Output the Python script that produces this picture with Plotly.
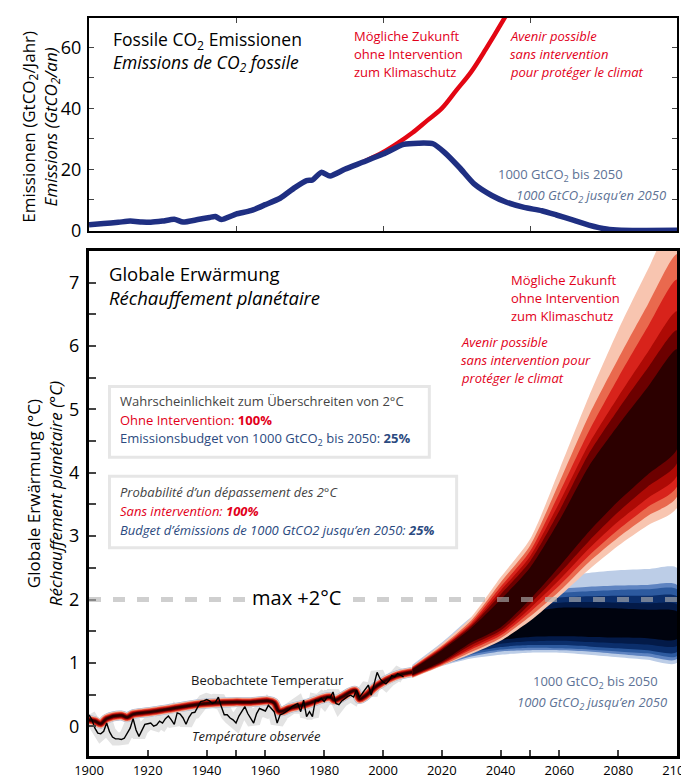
import plotly.graph_objects as go

FONT = "Open Sans"

# ---------------- top panel: fossil CO2 emissions ----------------
em_years = [1900, 1905, 1910, 1914, 1918, 1921, 1925, 1929, 1932, 1937, 1941, 1943, 1945,
            1950, 1955, 1960, 1965, 1970, 1974, 1976, 1979, 1982, 1987, 1993, 2000, 2007,
            2012, 2017, 2021, 2026, 2031, 2037, 2042, 2048, 2054, 2059, 2065, 2070, 2076,
            2081, 2100]
em_budget = [1.8, 2.2, 2.6, 3.0, 2.7, 2.6, 3.0, 3.6, 2.7, 3.5, 4.2, 4.5, 3.5,
             5.3, 6.4, 8.4, 10.5, 14.0, 16.3, 16.5, 19.0, 17.8, 20.0, 22.3, 25.0, 28.2,
             28.6, 28.4, 25.5, 20.6, 15.2, 11.4, 9.2, 7.5, 6.4, 5.0, 3.2, 1.7, 0.4,
             0.0, 0.0]
em_bau_years = [1993, 2000, 2005, 2010, 2015, 2020, 2025, 2030, 2035, 2040, 2045, 2050]
em_bau = [22.3, 25.6, 28.6, 32.0, 36.0, 40.0, 46.0, 52.0, 59.5, 67.5, 76.0, 85.0]

# ---------------- bottom panel: temperature ----------------
obs_years = list(range(1900, 2008))
obs_temp = [0.18, 0.10, -0.03, -0.11, -0.12, -0.08, 0.05, -0.09, -0.17, -0.20,
            -0.20, -0.21, -0.19, -0.10, -0.03, 0.12, -0.06, -0.16, -0.05, 0.03,
            0.04, 0.05, 0.00, 0.02, 0.08, 0.05, 0.12, 0.16, 0.10, 0.03,
            0.21, 0.19, 0.13, 0.03, 0.14, 0.21, 0.22, 0.31, 0.39, 0.40,
            0.42, 0.40, 0.36, 0.38, 0.46, 0.31, 0.18, 0.18, 0.13, 0.10,
            0.05, 0.16, 0.23, 0.31, 0.20, 0.125, 0.05, 0.20, 0.28, 0.26,
            0.24, 0.33, 0.28, 0.23, 0.05, 0.18, 0.20, 0.23, 0.26, 0.31,
            0.33, 0.36, 0.23, 0.41, 0.15, 0.23, 0.15, 0.41, 0.40, 0.44,
            0.39, 0.46, 0.45, 0.54, 0.36, 0.34, 0.40, 0.44, 0.47, 0.49,
            0.46, 0.57, 0.46, 0.52, 0.58, 0.65, 0.49, 0.65, 0.85, 0.75,
            0.70, 0.67, 0.72, 0.80, 0.78, 0.83, 0.80, 0.78]

model_years = [1900, 1902, 1904, 1906, 1911, 1913, 1915, 1920, 1927, 1938, 1949, 1955,
               1961, 1963, 1964.5, 1966, 1968, 1974, 1982, 1983.5, 1986, 1990.5, 1992,
               1994, 1998, 2004, 2010]
model_temp = [0.10, 0.08, 0.04, 0.12, 0.17, 0.14, 0.19, 0.22, 0.27, 0.35, 0.38, 0.38,
              0.40, 0.37, 0.24, 0.24, 0.28, 0.35, 0.46, 0.41, 0.46, 0.56, 0.43,
              0.48, 0.64, 0.79, 0.855]

proj_years = [2010, 2020, 2030, 2040, 2050, 2060, 2070, 2080, 2090, 2100]

# no-intervention projection, outer (L1) to inner (L6) ranges
red_upper = [
    [0.95, 1.30, 1.72, 2.35, 2.95, 4.05, 5.20, 6.25, 7.20, 8.10],
    [0.94, 1.27, 1.67, 2.27, 2.85, 3.85, 4.90, 5.80, 6.65, 7.45],
    [0.93, 1.25, 1.63, 2.20, 2.76, 3.68, 4.65, 5.50, 6.30, 7.05],
    [0.92, 1.23, 1.60, 2.14, 2.68, 3.53, 4.45, 5.20, 5.90, 6.55],
    [0.91, 1.22, 1.58, 2.08, 2.60, 3.40, 4.30, 5.00, 5.65, 6.25],
    [0.90, 1.20, 1.55, 2.00, 2.50, 3.25, 4.10, 4.75, 5.35, 5.95],
]
red_lower = [
    [0.76, 0.95, 1.14, 1.35, 1.66, 2.05, 2.47, 2.85, 3.17, 3.45],
    [0.77, 0.96, 1.17, 1.39, 1.73, 2.13, 2.59, 2.98, 3.32, 3.62],
    [0.78, 0.98, 1.21, 1.43, 1.80, 2.22, 2.69, 3.10, 3.46, 3.78],
    [0.79, 0.99, 1.24, 1.47, 1.86, 2.31, 2.80, 3.23, 3.60, 3.95],
    [0.80, 1.00, 1.28, 1.51, 1.93, 2.41, 2.92, 3.38, 3.78, 4.15],
    [0.81, 1.02, 1.32, 1.56, 2.00, 2.52, 3.07, 3.55, 3.97, 4.37],
]
# 1000 GtCO2 budget projection
blue_upper = [
    [0.97, 1.32, 1.72, 2.00, 2.20, 2.36, 2.42, 2.46, 2.48, 2.50],
    [0.95, 1.28, 1.62, 1.88, 2.05, 2.16, 2.20, 2.22, 2.23, 2.23],
    [0.94, 1.26, 1.58, 1.83, 2.00, 2.10, 2.13, 2.15, 2.16, 2.16],
    [0.93, 1.24, 1.55, 1.78, 1.94, 2.03, 2.05, 2.06, 2.06, 2.05],
    [0.92, 1.22, 1.51, 1.72, 1.87, 1.95, 1.96, 1.95, 1.94, 1.92],
    [0.91, 1.20, 1.47, 1.66, 1.80, 1.87, 1.87, 1.86, 1.84, 1.81],
]
blue_lower = [
    [0.77, 0.95, 1.07, 1.13, 1.16, 1.16, 1.13, 1.09, 1.05, 1.00],
    [0.78, 0.96, 1.10, 1.18, 1.20, 1.20, 1.18, 1.14, 1.10, 1.06],
    [0.79, 0.97, 1.13, 1.21, 1.24, 1.23, 1.21, 1.18, 1.15, 1.11],
    [0.80, 0.98, 1.16, 1.25, 1.28, 1.28, 1.26, 1.23, 1.20, 1.17],
    [0.81, 1.00, 1.19, 1.30, 1.34, 1.35, 1.33, 1.31, 1.29, 1.27],
    [0.82, 1.02, 1.24, 1.36, 1.41, 1.42, 1.41, 1.40, 1.39, 1.375],
]

red_colors = ["#f8c5b0", "#e9694e", "#d8231b", "#ad0a05", "#6c0000", "#2c0000"]
blue_colors = ["#bccde7", "#5f84c1", "#2d5a9f", "#0b2e6b", "#031a48", "#00030e"]
hist_widths = [9, 7.5, 6, 4.5, 3.5, 2.2]

RED_TXT = "#e2001a"
BLUE_TXT = "#5d7295"
NAVY_TXT = "#2b4a80"

fig = go.Figure()

# top panel lines
fig.add_trace(go.Scatter(x=em_bau_years, y=em_bau, mode="lines", xaxis="x", yaxis="y",
                         line=dict(color="#e30613", width=4.5, shape="spline"), showlegend=False))
fig.add_trace(go.Scatter(x=em_years, y=em_budget, mode="lines", xaxis="x", yaxis="y",
                         line=dict(color="#1f2f82", width=5.5, shape="spline", smoothing=0.6),
                         showlegend=False))

# bottom panel: observation envelope
fig.add_trace(go.Scatter(x=obs_years, y=obs_temp, mode="lines", xaxis="x2", yaxis="y2",
                         line=dict(color="#e3e3e3", width=13), showlegend=False))
# historical model (blue edge then red)
fig.add_trace(go.Scatter(x=model_years, y=model_temp, mode="lines", xaxis="x2", yaxis="y2",
                         line=dict(color="#9fb8dc", width=10, shape="spline"), showlegend=False))


def fan(upper, lower, colors):
    for up, lo, col in zip(upper, lower, colors):
        fig.add_trace(go.Scatter(
            x=proj_years + proj_years[::-1], y=up + lo[::-1], mode="lines",
            fill="toself", fillcolor=col, line=dict(width=0, color=col, shape="spline", smoothing=0.7),
            xaxis="x2", yaxis="y2", showlegend=False, hoverinfo="skip"))


fan(blue_upper, blue_lower, blue_colors)
for w, col in zip(hist_widths, red_colors):
    fig.add_trace(go.Scatter(x=model_years, y=model_temp, mode="lines", xaxis="x2", yaxis="y2",
                             line=dict(color=col, width=w, shape="spline"), showlegend=False))
fan(red_upper, red_lower, red_colors)

fig.add_trace(go.Scatter(x=obs_years, y=obs_temp, mode="lines", xaxis="x2", yaxis="y2",
                         line=dict(color="#000000", width=1.4), showlegend=False))

# ---------------- layout helpers ----------------
L, R, T, B = 81, 5, 10, 25
W, H = 689, 776
PW, PH = W - L - R, H - T - B


def px(x):
    return (x - L) / PW


def py(y):
    return (H - B - y) / PH


ann = []


def txt(x, y, s, size=13, color="#000", anchor="left", italic=False, **kw):
    if italic:
        s = "<i>" + s + "</i>"
    ann.append(dict(x=px(x), y=py(y), xref="paper", yref="paper", text=s, showarrow=False,
                    xanchor=anchor, yanchor="middle", align="left",
                    font=dict(family=FONT, size=size, color=color), **kw))


# top panel texts
txt(104, 44, "Fossile CO<sub>2</sub> Emissionen<br><i>Emissions de CO<sub>2</sub> fossile</i>", 17.5)
for i, s in enumerate(["Mögliche Zukunft", "ohne Intervention", "zum Klimaschutz"]):
    txt(351, 28 + 18 * i, s, 13, RED_TXT)
for i, s in enumerate(["Avenir possible", "sans intervention", "pour protéger le climat"]):
    txt(511, 28 + 18 * i, s, 13, RED_TXT, italic=True)
txt(498, 168, "1000 GtCO<sub>2</sub> bis 2050", 13, BLUE_TXT)
txt(517, 189, "1000 GtCO<sub>2</sub> jusqu’en 2050", 13, BLUE_TXT, italic=True)
ann.append(dict(x=px(31), y=py(119), xref="paper", yref="paper", textangle=-90, showarrow=False,
                text="Emissionen (GtCO<sub>2</sub>/Jahr)<br><i>Emissions (GtCO<sub>2</sub>/an)</i>",
                font=dict(family=FONT, size=17, color="#000"), xanchor="center", yanchor="middle"))

# bottom panel texts
txt(99, 279, "Globale Erwärmung<br><i>Réchauffement planétaire</i>", 18.5)
for i, s in enumerate(["Mögliche Zukunft", "ohne Intervention", "zum Klimaschutz"]):
    txt(512, 273 + 18 * i, s, 13, RED_TXT)
for i, s in enumerate(["Avenir possible", "sans intervention pour", "protéger le climat"]):
    txt(460, 335 + 18 * i, s, 13, RED_TXT, italic=True)

txt(111, 395, "Wahrscheinlichkeit zum Überschreiten von 2°C", 13, "#444444")
txt(111, 414, "Ohne Intervention: <b>100%</b>", 13, RED_TXT)
txt(111, 433, "Emissionsbudget von 1000 GtCO<sub>2</sub> bis 2050: <b>25%</b>", 13, NAVY_TXT)
txt(111, 486, "Probabilité d’un dépassement des 2°C", 13, "#444444", italic=True)
txt(111, 505, "Sans intervention: <b>100%</b>", 13, RED_TXT, italic=True)
txt(111, 524, "Budget d’émissions de 1000 GtCO2 jusqu’en 2050: <b>25%</b>", 13, NAVY_TXT, italic=True)

txt(294, 592, "max +2°C", 20, "#000", anchor="center", bgcolor="#ffffff", borderpad=1)
txt(184, 675, "Beobachtete Temperatur", 13, "#1a1a1a")
txt(185, 731, "Température observée", 13, "#1a1a1a", italic=True)
txt(534, 677, "1000 GtCO<sub>2</sub> bis 2050", 13, BLUE_TXT)
txt(518, 698, "1000 GtCO<sub>2</sub> jusqu’en 2050", 13, BLUE_TXT, italic=True)
ann.append(dict(x=px(35), y=py(488), xref="paper", yref="paper", textangle=-90, showarrow=False,
                text="Globale Erwärmung (°C)<br><i>Réchauffement planétaire (°C)</i>",
                font=dict(family=FONT, size=17, color="#000"), xanchor="center", yanchor="middle"))

shapes = [
    dict(type="line", xref="x2", yref="y2", x0=1900, x1=2100, y0=2, y1=2, layer="above",
         line=dict(color="rgba(178,178,178,0.62)", width=5, dash="12px,12px")),
    dict(type="rect", xref="paper", yref="paper", x0=px(102), x1=px(430), y0=py(380), y1=py(451),
         line=dict(color="#e6e6e6", width=3), fillcolor="rgba(0,0,0,0)", layer="above"),
    dict(type="rect", xref="paper", yref="paper", x0=px(102), x1=px(458), y0=py(470), y1=py(542),
         line=dict(color="#e6e6e6", width=3), fillcolor="rgba(0,0,0,0)", layer="above"),
]

top_dom = [py(224), 1.0]
bot_dom = [0.0, py(244)]

fig.update_layout(
    width=W, height=H, margin=dict(l=L, r=R, t=T, b=B),
    paper_bgcolor="white", plot_bgcolor="white", showlegend=False,
    font=dict(family=FONT, color="#000"),
    annotations=ann, shapes=shapes,
    xaxis=dict(domain=[0, 1], anchor="y", range=[1900, 2100], showticklabels=False,
               tickvals=[1950, 2000, 2050], ticks="inside", ticklen=5, tickwidth=1.2,
               showline=True, linecolor="black", linewidth=2, mirror="ticks",
               showgrid=False, zeroline=False),
    yaxis=dict(domain=top_dom, anchor="x", range=[-0.3, 69.7], tickvals=[0, 20, 40, 60],
               ticks="inside", ticklen=5, tickwidth=1.2, ticklabelstandoff=2,
               minor=dict(tickvals=[10, 30, 50], ticks="inside", ticklen=5, tickwidth=1.2),
               showline=True, linecolor="black", linewidth=2, mirror="ticks",
               showgrid=False, zeroline=False, tickfont=dict(size=18, family=FONT)),
    xaxis2=dict(domain=[0, 1], anchor="y2", range=[1900, 2100],
                tickvals=list(range(1900, 2101, 20)), ticks="inside", ticklen=6, tickwidth=1.5,
                minor=dict(tickvals=[1950, 2050], ticks="inside", ticklen=6, tickwidth=1.5),
                showline=True, linecolor="black", linewidth=3, mirror=True,
                showgrid=False, zeroline=False, tickfont=dict(size=13, family=FONT),
                ticklabeloverflow="allow"),
    yaxis2=dict(domain=bot_dom, anchor="x2", range=[-0.47, 7.5], tickvals=list(range(0, 8)),
                ticks="inside", ticklen=7, tickwidth=1.5, ticklabelstandoff=3,
                minor=dict(dtick=0.5, tick0=0, ticks="inside", ticklen=7, tickwidth=1.5),
                showline=True, linecolor="black", linewidth=3, mirror=True,
                showgrid=False, zeroline=False, tickfont=dict(size=18, family=FONT)),
)

fig.write_html("out.html")
